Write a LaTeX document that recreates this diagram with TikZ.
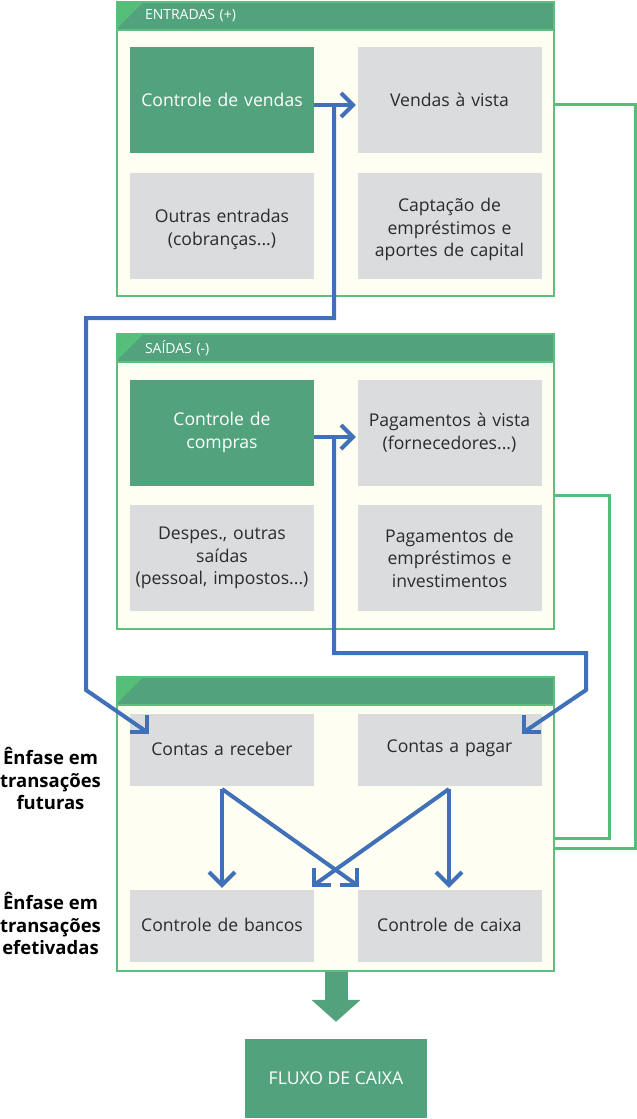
\documentclass[tikz,border=0pt]{standalone}
\usepackage{fontspec}
\setmainfont{Open Sans}
\usetikzlibrary{arrows.meta}
\definecolor{hgreen}{HTML}{52A37D}
\definecolor{tgreen}{HTML}{55BE78}
\definecolor{pborder}{HTML}{5CBF7E}
\definecolor{pfill}{HTML}{FEFEF2}
\definecolor{gboxc}{HTML}{DBDCDE}
\definecolor{blueln}{HTML}{4070B8}
\definecolor{gline}{HTML}{52BE78}
\definecolor{txtc}{HTML}{2B2B2B}
\newcommand{\shiftdown}[2]{\raisebox{-#1}[\height][\depth]{#2}}
\tikzset{
  panel/.style={draw=pborder, line width=2pt, fill=pfill, minimum width=437pt, inner sep=0pt},
  header/.style={fill=hgreen, draw=pborder, line width=1.5pt, minimum width=437pt, minimum height=28pt,
    inner xsep=28pt, inner ysep=0pt, text width=381pt, align=left, text=white,
    font=\fontsize{14}{16}\selectfont},
  tri/.style={fill=tgreen},
  boxbase/.style={minimum width=184pt, inner sep=0pt, text width=180pt, align=center,
    font=\fontsize{17.6}{22.5}\selectfont},
  gbox/.style={boxbase, fill=gboxc, text=txtc, minimum height=106pt},
  dbox/.style={boxbase, fill=hgreen, text=white, minimum height=106pt},
  sbox/.style={boxbase, fill=gboxc, text=txtc, minimum height=72pt},
  fbox/.style={fill=hgreen, text=white, minimum width=182pt, minimum height=79pt, inner sep=0pt,
    font=\fontsize{17.6}{22.5}\selectfont},
  sidelbl/.style={align=center, font=\fontsize{18.5}{22.5}\selectfont\bfseries, text=black, inner sep=0pt},
  bl/.style={draw=blueln, line width=4pt, line join=miter},
  gl/.style={draw=gline, line width=3pt, line join=miter},
  bigarrow/.style={draw=hgreen, line width=23pt, -{Triangle[width=48pt,length=22pt]}, shorten >=17pt}
}
\begin{document}
\begin{tikzpicture}[x=1pt,y=-1pt]
\useasboundingbox (0,0) rectangle (637,1119);

% ---------- green connectors (behind panels) ----------
\coordinate (g1a) at (554,104);
\coordinate (g1b) at (635,104);
\coordinate (g1c) at (635,848);
\coordinate (g1d) at (554,848);
\coordinate (g2a) at (554,495);
\coordinate (g2b) at (609,495);
\coordinate (g2c) at (609,838);
\coordinate (g2d) at (554,838);
\draw[gl] (g1a) -- (g1b) -- (g1c) -- (g1d);
\draw[gl] (g2a) -- (g2b) -- (g2c) -- (g2d);

% ---------- panels ----------
\node[panel, minimum height=294pt] (pan1) at (335.5,149) {};
\node[panel, minimum height=295pt] (pan2) at (335.5,481.5) {};
\node[panel, minimum height=294pt] (pan3) at (335.5,824) {};

\node[header, anchor=north] (hd1) at (pan1.north) {ENTRADAS (+)};
\node[header, anchor=north] (hd2) at (pan2.north) {SAÍDAS (-)};
\node[header, anchor=north] (hd3) at (pan3.north) {};
\foreach \h in {hd1,hd2,hd3}{
  \fill[tri] ([shift={(1,1)}]\h.north west) -- ++(26,0) -- ++(-26,26) -- cycle;
}

% ---------- boxes ----------
\node[dbox] (cv) at (222,100) {Controle de vendas};
\node[gbox] (vv) at (449.5,100) {Vendas à vista};
\node[gbox] (oe) at (222,225.5) {\shiftdown{4pt}{\parbox{180pt}{\centering Outras entradas\\(cobranças...)}}};
\node[gbox] (ce) at (449.5,225.5) {\shiftdown{4pt}{\parbox{180pt}{\centering Captação de\\empréstimos e\\aportes de capital}}};

\node[dbox] (cc) at (222,432.5) {Controle de\\compras};
\node[gbox] (pv) at (449.5,432.5) {Pagamentos à vista\\(fornecedores...)};
\node[gbox] (dsp) at (222,558) {Despes., outras\\saídas\\(pessoal, impostos...)};
\node[gbox] (pe) at (449.5,558) {Pagamentos de\\empréstimos e\\investimentos};

\node[sbox] (cr) at (222,750) {\shiftdown{-1.5pt}{Contas a receber}};
\node[sbox] (cp) at (449.5,750) {\shiftdown{-1.5pt}{Contas a pagar}};
\node[sbox] (cb) at (222,926) {\shiftdown{-1.5pt}{Controle de bancos}};
\node[sbox] (cx) at (449.5,926) {\shiftdown{-1.5pt}{Controle de caixa}};

\node[fbox] (fx) at (336,1078.5) {FLUXO DE CAIXA};

\node[sidelbl] (lf) at (50.5,778.5) {Ênfase em\\transações\\futuras};
\node[sidelbl] (le) at (50.5,923.5) {Ênfase em\\transações\\efetivadas};

% ---------- blue connectors ----------
% sales
\coordinate (a1t) at (353,105);
\coordinate (j1) at (334,105);
\coordinate (b1) at (334,318);
\coordinate (b2) at (86,318);
\coordinate (b3) at (86,690);
\coordinate (r1t) at (147,732);
\draw[bl] (cv.east |- a1t) -- (a1t);
\draw[bl] ([shift={(-12,-12)}]a1t) -- (a1t) -- ([shift={(-12,12)}]a1t);
\draw[bl] (j1) -- (b1) -- (b2) -- (b3) -- (r1t);
\draw[bl] ([shift={(-17,0)}]r1t) -- (r1t) -- ([shift={(0,-17)}]r1t);

% purchases
\coordinate (a2t) at (353,437);
\coordinate (j2) at (334,437);
\coordinate (c1) at (334,653);
\coordinate (c2) at (586,653);
\coordinate (c3) at (586,690);
\coordinate (p1t) at (524,732);
\draw[bl] (cc.east |- a2t) -- (a2t);
\draw[bl] ([shift={(-12,-12)}]a2t) -- (a2t) -- ([shift={(-12,12)}]a2t);
\draw[bl] (j2) -- (c1) -- (c2) -- (c3) -- (p1t);
\draw[bl] ([shift={(17,0)}]p1t) -- (p1t) -- ([shift={(0,-17)}]p1t);

% receivables / payables to banks / cash
\coordinate (s1) at (222,789);
\coordinate (s2) at (449,789);
\coordinate (t1) at (222,885);
\coordinate (t2) at (357,885);
\coordinate (t3) at (449,885);
\coordinate (t4) at (314,885);
\draw[bl] (s1) -- (t1);
\draw[bl] ([shift={(-13,-13)}]t1) -- (t1) -- ([shift={(13,-13)}]t1);
\draw[bl] (s1) -- (t2);
\draw[bl] ([shift={(-17,0)}]t2) -- (t2) -- ([shift={(0,-17)}]t2);
\draw[bl] (s2) -- (t3);
\draw[bl] ([shift={(-13,-13)}]t3) -- (t3) -- ([shift={(13,-13)}]t3);
\draw[bl] (s2) -- (t4);
\draw[bl] ([shift={(17,0)}]t4) -- (t4) -- ([shift={(0,-17)}]t4);

% ---------- big arrow to cash flow ----------
\draw[bigarrow] (pan3.south -| fx.north) -- (fx.north);
\end{tikzpicture}
\end{document}
